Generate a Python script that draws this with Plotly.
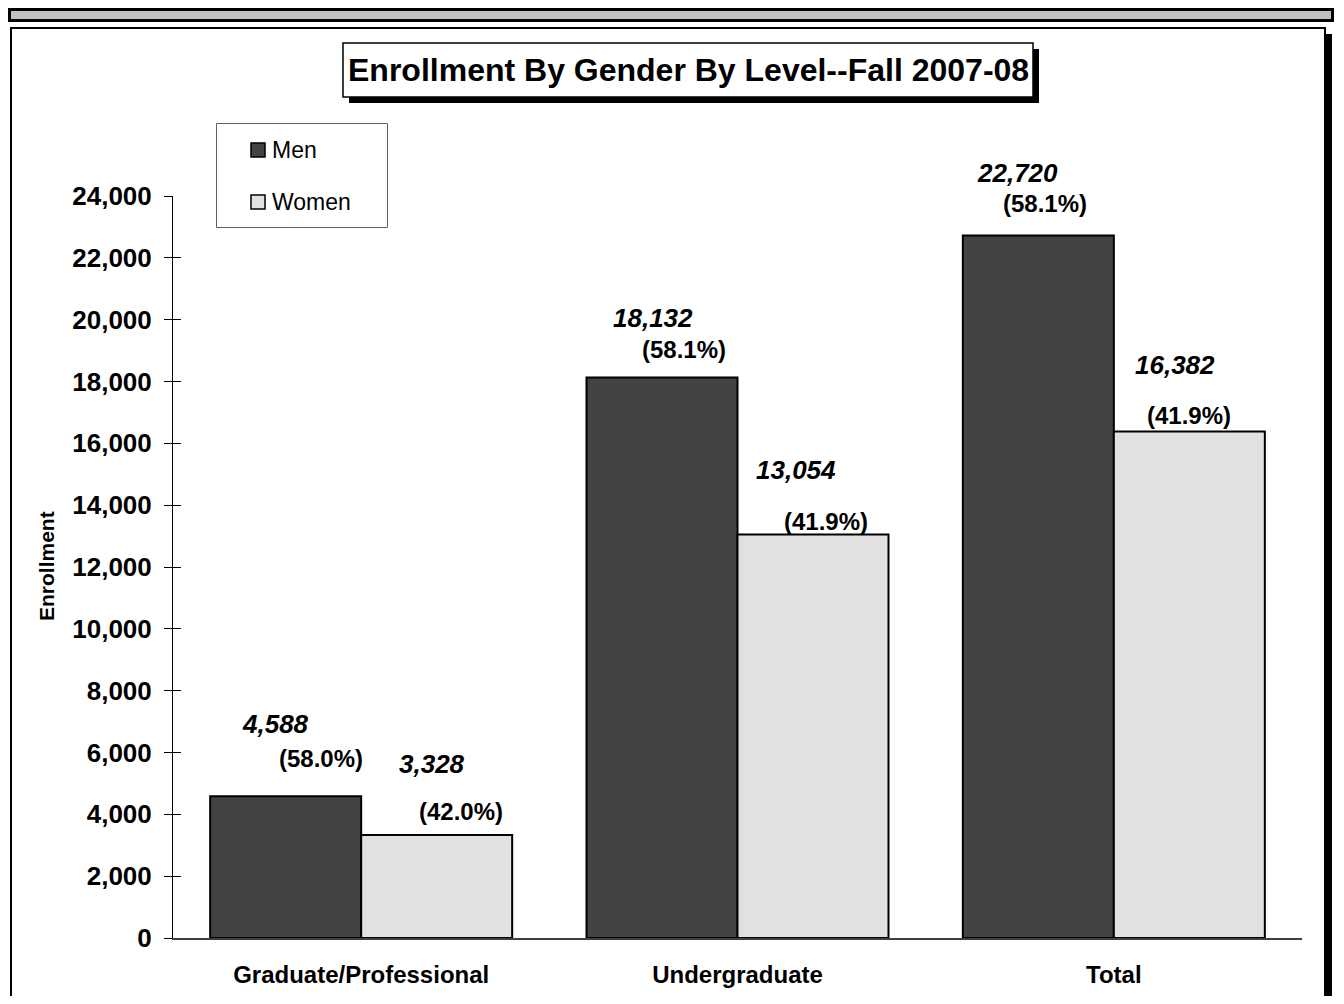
import plotly.graph_objects as go

# ---------------- data ----------------
categories = ["Graduate/Professional", "Undergraduate", "Total"]
series_names = ["Men", "Women"]
men = [4588, 18132, 22720]
women = [3328, 13054, 16382]
y_ticks = list(range(0, 24001, 2000))
title_text = "Enrollment By Gender By Level--Fall 2007-08"
y_title = "Enrollment"

# ---------------- style ----------------
FONT = "Liberation Sans, Arial, sans-serif"
MEN_COLOR = "#434343"
WOMEN_COLOR = "#e1e1e1"

FIG_W, FIG_H = 1328, 988
OFF = 8  # page body margin
L, T, W, H = 165, 188, 1129, 742

def fx(px):
    return (px - OFF - L) / W

def fy(py):
    return (T + H - (py - OFF)) / H

# label offsets relative to bar centre (dx) and bar top (dy, up) in px
BAR_SHIFT = 75.5
men_value_off = [(-10, 72), (-9.5, 59.5), (-21, 62.5)]
men_pct_off = [(35, 38), (21.5, 28), (6.5, 32.5)]
women_value_off = [(-4.5, 71), (-17, 64), (-14, 67)]
women_pct_off = [(24.5, 24), (13, 13), (0, 16)]

fig = go.Figure()
fig.add_trace(go.Bar(x=categories, y=men, name=series_names[0],
                     marker=dict(color=MEN_COLOR, line=dict(color="black", width=2)),
                     showlegend=False, hoverinfo="skip"))
fig.add_trace(go.Bar(x=categories, y=women, name=series_names[1],
                     marker=dict(color=WOMEN_COLOR, line=dict(color="black", width=2)),
                     showlegend=False, hoverinfo="skip"))
# invisible helper for inner ticks axis
fig.add_trace(go.Scatter(x=categories, y=[None, None, None], yaxis="y2",
                         showlegend=False, hoverinfo="skip", mode="markers"))

shapes = []
# top gray bar
shapes.append(dict(type="rect", xref="paper", yref="paper",
                   x0=fx(9.5), x1=fx(1332.5), y0=fy(9.5), y1=fy(20.5),
                   line=dict(color="black", width=3), fillcolor="#c0c0c0", layer="below"))
# frame shadow
shapes.append(dict(type="rect", xref="paper", yref="paper",
                   x0=fx(1318), x1=fx(1332), y0=fy(34), y1=fy(1100),
                   line=dict(width=0), fillcolor="black", layer="below"))
# frame
shapes.append(dict(type="rect", xref="paper", yref="paper",
                   x0=fx(11), x1=fx(1325), y0=fy(28), y1=fy(1100),
                   line=dict(color="black", width=2), fillcolor="white", layer="below"))
# title shadow + box
shapes.append(dict(type="rect", xref="paper", yref="paper",
                   x0=fx(349), x1=fx(1039), y0=fy(49), y1=fy(103),
                   line=dict(width=0), fillcolor="black", layer="below"))
shapes.append(dict(type="rect", xref="paper", yref="paper",
                   x0=fx(343), x1=fx(1033), y0=fy(43), y1=fy(97),
                   line=dict(color="black", width=1.5), fillcolor="white", layer="below"))
# legend box
shapes.append(dict(type="rect", xref="paper", yref="paper",
                   x0=fx(216.5), x1=fx(387.5), y0=fy(123.5), y1=fy(227.5),
                   line=dict(color="#606060", width=1), fillcolor="white", layer="below"))
legend_rows = [150, 202]
legend_colors = [MEN_COLOR, WOMEN_COLOR]
for row, col in zip(legend_rows, legend_colors):
    shapes.append(dict(type="rect", xref="paper", yref="paper",
                       x0=fx(251), x1=fx(265), y0=fy(row - 7), y1=fy(row + 7),
                       line=dict(color="black", width=1.5), fillcolor=col, layer="above"))

annotations = []
annotations.append(dict(text="<b>" + title_text + "</b>", xref="paper", yref="paper",
                        x=fx(688), y=fy(70), xanchor="center", yanchor="middle",
                        showarrow=False, font=dict(family=FONT, size=32, color="black")))
for name, row in zip(series_names, legend_rows):
    annotations.append(dict(text=name, xref="paper", yref="paper",
                            x=fx(270), y=fy(row), xanchor="left", yanchor="middle",
                            showarrow=False, font=dict(family=FONT, size=23, color="black")))
annotations.append(dict(text="<b>" + y_title + "</b>", xref="paper", yref="paper",
                        x=fx(46), y=fy(566), xanchor="center", yanchor="middle",
                        textangle=-90, showarrow=False,
                        font=dict(family=FONT, size=21, color="black")))

for i, cat in enumerate(categories):
    tot = men[i] + women[i]
    for vals, sign, voff, poff in ((men, -1, men_value_off, men_pct_off),
                                   (women, 1, women_value_off, women_pct_off)):
        v = vals[i]
        annotations.append(dict(text=f"<b><i>{v:,}</i></b>", x=cat, y=v, xref="x", yref="y",
                                xshift=sign * BAR_SHIFT + voff[i][0], yshift=voff[i][1],
                                xanchor="center", yanchor="middle", showarrow=False,
                                font=dict(family=FONT, size=26, color="black")))
        annotations.append(dict(text=f"<b>({v / tot * 100:.1f}%)</b>", x=cat, y=v, xref="x", yref="y",
                                xshift=sign * BAR_SHIFT + poff[i][0], yshift=poff[i][1],
                                xanchor="center", yanchor="middle", showarrow=False,
                                font=dict(family=FONT, size=24, color="black")))

fig.update_layout(
    width=FIG_W, height=FIG_H,
    margin=dict(l=L, r=FIG_W - L - W, t=T, b=FIG_H - T - H, pad=0),
    paper_bgcolor="white", plot_bgcolor="rgba(0,0,0,0)",
    barmode="group", bargap=0.1975, bargroupgap=0,
    font=dict(family=FONT, color="black"),
    shapes=shapes, annotations=annotations,
    xaxis=dict(type="category", showline=True, linecolor="#404040", linewidth=1.5,
               ticks="", showgrid=False, zeroline=False, automargin=False,
               tickfont=dict(family=FONT, size=24, color="black", weight="bold"),
               ticklabelstandoff=14),
    yaxis=dict(range=[0, 24000], tickvals=y_ticks, tickformat=",d",
               showline=True, linecolor="black", linewidth=1, automargin=False,
               ticks="outside", ticklen=8, tickcolor="black", tickwidth=1,
               showgrid=False, zeroline=False,
               tickfont=dict(family=FONT, size=26, color="black", weight="bold"),
               ticklabelstandoff=7),
    yaxis2=dict(range=[0, 24000], tickvals=y_ticks, overlaying="y", side="left",
                anchor="x", showticklabels=False, ticks="inside", ticklen=8,
                tickcolor="black", tickwidth=1, showline=False, showgrid=False,
                zeroline=False, automargin=False),
)

fig.write_html("out.html")
